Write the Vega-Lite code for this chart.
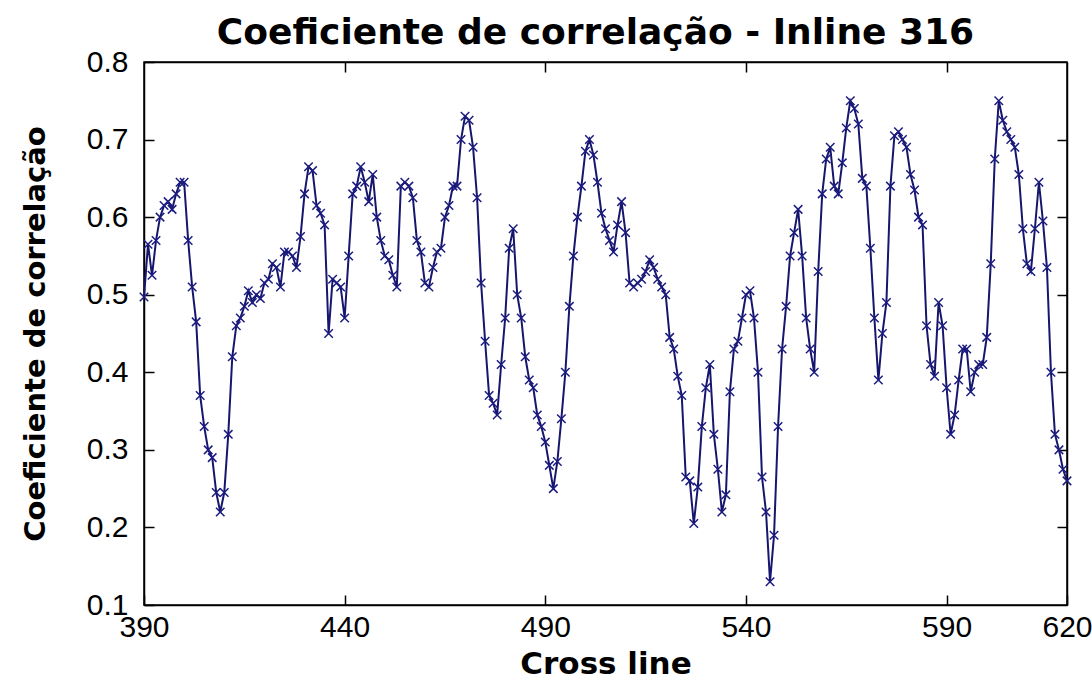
{
  "$schema": "https://vega.github.io/schema/vega-lite/v6.json",
  "width": 923,
  "height": 543,
  "autosize": {"type": "none"},
  "padding": {"left": 144, "top": 62, "right": 25, "bottom": 80},
  "background": "white",
  "title": {
    "text": "Coeficiente de correlação - Inline 316",
    "font": "DejaVu Sans",
    "fontSize": 36,
    "fontWeight": "bold",
    "color": "black",
    "offset": -5,
    "dx": -10
  },
  "data": {
    "values": [
      {"crossline": 390, "coef": 0.497}, {"crossline": 391, "coef": 0.565}, {"crossline": 392, "coef": 0.525},
      {"crossline": 393, "coef": 0.57}, {"crossline": 394, "coef": 0.6}, {"crossline": 395, "coef": 0.615},
      {"crossline": 396, "coef": 0.62}, {"crossline": 397, "coef": 0.61}, {"crossline": 398, "coef": 0.63},
      {"crossline": 399, "coef": 0.645}, {"crossline": 400, "coef": 0.645}, {"crossline": 401, "coef": 0.57},
      {"crossline": 402, "coef": 0.51}, {"crossline": 403, "coef": 0.465}, {"crossline": 404, "coef": 0.37},
      {"crossline": 405, "coef": 0.33}, {"crossline": 406, "coef": 0.3}, {"crossline": 407, "coef": 0.29},
      {"crossline": 408, "coef": 0.245}, {"crossline": 409, "coef": 0.22}, {"crossline": 410, "coef": 0.245},
      {"crossline": 411, "coef": 0.32}, {"crossline": 412, "coef": 0.42}, {"crossline": 413, "coef": 0.46},
      {"crossline": 414, "coef": 0.47}, {"crossline": 415, "coef": 0.485}, {"crossline": 416, "coef": 0.505},
      {"crossline": 417, "coef": 0.49}, {"crossline": 418, "coef": 0.5}, {"crossline": 419, "coef": 0.495},
      {"crossline": 420, "coef": 0.515}, {"crossline": 421, "coef": 0.52}, {"crossline": 422, "coef": 0.54},
      {"crossline": 423, "coef": 0.535}, {"crossline": 424, "coef": 0.51}, {"crossline": 425, "coef": 0.555},
      {"crossline": 426, "coef": 0.555}, {"crossline": 427, "coef": 0.55}, {"crossline": 428, "coef": 0.535},
      {"crossline": 429, "coef": 0.575}, {"crossline": 430, "coef": 0.63}, {"crossline": 431, "coef": 0.665},
      {"crossline": 432, "coef": 0.66}, {"crossline": 433, "coef": 0.615}, {"crossline": 434, "coef": 0.605},
      {"crossline": 435, "coef": 0.59}, {"crossline": 436, "coef": 0.45}, {"crossline": 437, "coef": 0.52},
      {"crossline": 438, "coef": 0.515}, {"crossline": 439, "coef": 0.51}, {"crossline": 440, "coef": 0.47},
      {"crossline": 441, "coef": 0.55}, {"crossline": 442, "coef": 0.63}, {"crossline": 443, "coef": 0.64},
      {"crossline": 444, "coef": 0.665}, {"crossline": 445, "coef": 0.645}, {"crossline": 446, "coef": 0.62},
      {"crossline": 447, "coef": 0.655}, {"crossline": 448, "coef": 0.6}, {"crossline": 449, "coef": 0.57},
      {"crossline": 450, "coef": 0.55}, {"crossline": 451, "coef": 0.545}, {"crossline": 452, "coef": 0.525},
      {"crossline": 453, "coef": 0.51}, {"crossline": 454, "coef": 0.64}, {"crossline": 455, "coef": 0.645},
      {"crossline": 456, "coef": 0.64}, {"crossline": 457, "coef": 0.625}, {"crossline": 458, "coef": 0.57},
      {"crossline": 459, "coef": 0.555}, {"crossline": 460, "coef": 0.515}, {"crossline": 461, "coef": 0.51},
      {"crossline": 462, "coef": 0.535}, {"crossline": 463, "coef": 0.555}, {"crossline": 464, "coef": 0.56},
      {"crossline": 465, "coef": 0.6}, {"crossline": 466, "coef": 0.615}, {"crossline": 467, "coef": 0.64},
      {"crossline": 468, "coef": 0.64}, {"crossline": 469, "coef": 0.7}, {"crossline": 470, "coef": 0.73},
      {"crossline": 471, "coef": 0.725}, {"crossline": 472, "coef": 0.69}, {"crossline": 473, "coef": 0.625},
      {"crossline": 474, "coef": 0.515}, {"crossline": 475, "coef": 0.44}, {"crossline": 476, "coef": 0.37},
      {"crossline": 477, "coef": 0.36}, {"crossline": 478, "coef": 0.345}, {"crossline": 479, "coef": 0.41},
      {"crossline": 480, "coef": 0.47}, {"crossline": 481, "coef": 0.56}, {"crossline": 482, "coef": 0.585},
      {"crossline": 483, "coef": 0.5}, {"crossline": 484, "coef": 0.47}, {"crossline": 485, "coef": 0.42},
      {"crossline": 486, "coef": 0.39}, {"crossline": 487, "coef": 0.38}, {"crossline": 488, "coef": 0.345},
      {"crossline": 489, "coef": 0.33}, {"crossline": 490, "coef": 0.31}, {"crossline": 491, "coef": 0.28},
      {"crossline": 492, "coef": 0.25}, {"crossline": 493, "coef": 0.285}, {"crossline": 494, "coef": 0.34},
      {"crossline": 495, "coef": 0.4}, {"crossline": 496, "coef": 0.485}, {"crossline": 497, "coef": 0.55},
      {"crossline": 498, "coef": 0.6}, {"crossline": 499, "coef": 0.64}, {"crossline": 500, "coef": 0.685},
      {"crossline": 501, "coef": 0.7}, {"crossline": 502, "coef": 0.68}, {"crossline": 503, "coef": 0.645},
      {"crossline": 504, "coef": 0.605}, {"crossline": 505, "coef": 0.585}, {"crossline": 506, "coef": 0.57},
      {"crossline": 507, "coef": 0.555}, {"crossline": 508, "coef": 0.59}, {"crossline": 509, "coef": 0.62},
      {"crossline": 510, "coef": 0.58}, {"crossline": 511, "coef": 0.515}, {"crossline": 512, "coef": 0.51},
      {"crossline": 513, "coef": 0.515}, {"crossline": 514, "coef": 0.52}, {"crossline": 515, "coef": 0.53},
      {"crossline": 516, "coef": 0.545}, {"crossline": 517, "coef": 0.535}, {"crossline": 518, "coef": 0.52},
      {"crossline": 519, "coef": 0.51}, {"crossline": 520, "coef": 0.5}, {"crossline": 521, "coef": 0.445},
      {"crossline": 522, "coef": 0.43}, {"crossline": 523, "coef": 0.395}, {"crossline": 524, "coef": 0.37},
      {"crossline": 525, "coef": 0.265}, {"crossline": 526, "coef": 0.26}, {"crossline": 527, "coef": 0.205},
      {"crossline": 528, "coef": 0.252}, {"crossline": 529, "coef": 0.33}, {"crossline": 530, "coef": 0.38},
      {"crossline": 531, "coef": 0.41}, {"crossline": 532, "coef": 0.32}, {"crossline": 533, "coef": 0.275},
      {"crossline": 534, "coef": 0.22}, {"crossline": 535, "coef": 0.242}, {"crossline": 536, "coef": 0.375},
      {"crossline": 537, "coef": 0.43}, {"crossline": 538, "coef": 0.44}, {"crossline": 539, "coef": 0.47},
      {"crossline": 540, "coef": 0.5}, {"crossline": 541, "coef": 0.505}, {"crossline": 542, "coef": 0.47},
      {"crossline": 543, "coef": 0.4}, {"crossline": 544, "coef": 0.265}, {"crossline": 545, "coef": 0.22},
      {"crossline": 546, "coef": 0.13}, {"crossline": 547, "coef": 0.19}, {"crossline": 548, "coef": 0.33},
      {"crossline": 549, "coef": 0.43}, {"crossline": 550, "coef": 0.485}, {"crossline": 551, "coef": 0.55},
      {"crossline": 552, "coef": 0.58}, {"crossline": 553, "coef": 0.61}, {"crossline": 554, "coef": 0.55},
      {"crossline": 555, "coef": 0.47}, {"crossline": 556, "coef": 0.43}, {"crossline": 557, "coef": 0.4},
      {"crossline": 558, "coef": 0.53}, {"crossline": 559, "coef": 0.63}, {"crossline": 560, "coef": 0.675},
      {"crossline": 561, "coef": 0.69}, {"crossline": 562, "coef": 0.64}, {"crossline": 563, "coef": 0.63},
      {"crossline": 564, "coef": 0.67}, {"crossline": 565, "coef": 0.715}, {"crossline": 566, "coef": 0.75},
      {"crossline": 567, "coef": 0.74}, {"crossline": 568, "coef": 0.72}, {"crossline": 569, "coef": 0.65},
      {"crossline": 570, "coef": 0.64}, {"crossline": 571, "coef": 0.56}, {"crossline": 572, "coef": 0.47},
      {"crossline": 573, "coef": 0.39}, {"crossline": 574, "coef": 0.45}, {"crossline": 575, "coef": 0.49},
      {"crossline": 576, "coef": 0.64}, {"crossline": 577, "coef": 0.705}, {"crossline": 578, "coef": 0.71},
      {"crossline": 579, "coef": 0.7}, {"crossline": 580, "coef": 0.69}, {"crossline": 581, "coef": 0.655},
      {"crossline": 582, "coef": 0.635}, {"crossline": 583, "coef": 0.6}, {"crossline": 584, "coef": 0.59},
      {"crossline": 585, "coef": 0.46}, {"crossline": 586, "coef": 0.41}, {"crossline": 587, "coef": 0.395},
      {"crossline": 588, "coef": 0.49}, {"crossline": 589, "coef": 0.46}, {"crossline": 590, "coef": 0.38},
      {"crossline": 591, "coef": 0.32}, {"crossline": 592, "coef": 0.345}, {"crossline": 593, "coef": 0.39},
      {"crossline": 594, "coef": 0.43}, {"crossline": 595, "coef": 0.43}, {"crossline": 596, "coef": 0.375},
      {"crossline": 597, "coef": 0.4}, {"crossline": 598, "coef": 0.41}, {"crossline": 599, "coef": 0.41},
      {"crossline": 600, "coef": 0.445}, {"crossline": 601, "coef": 0.54}, {"crossline": 602, "coef": 0.675},
      {"crossline": 603, "coef": 0.75}, {"crossline": 604, "coef": 0.725}, {"crossline": 605, "coef": 0.71},
      {"crossline": 606, "coef": 0.7}, {"crossline": 607, "coef": 0.69}, {"crossline": 608, "coef": 0.655},
      {"crossline": 609, "coef": 0.585}, {"crossline": 610, "coef": 0.54}, {"crossline": 611, "coef": 0.53},
      {"crossline": 612, "coef": 0.585}, {"crossline": 613, "coef": 0.645}, {"crossline": 614, "coef": 0.595},
      {"crossline": 615, "coef": 0.535}, {"crossline": 616, "coef": 0.4}, {"crossline": 617, "coef": 0.32},
      {"crossline": 618, "coef": 0.3}, {"crossline": 619, "coef": 0.275}, {"crossline": 620, "coef": 0.26}
    ]
  },
  "layer": [
    {
      "mark": {"type": "line", "color": "#16166e", "strokeWidth": 2},
      "encoding": {
        "x": {
          "field": "crossline",
          "type": "quantitative",
          "scale": {"domain": [390, 620], "nice": false, "zero": false},
          "axis": {
            "orient": "bottom",
            "values": [390, 440, 490, 540, 590, 620],
            "format": "d",
            "title": "Cross line",
            "titleFont": "DejaVu Sans",
            "titleFontSize": 31,
            "titleFontWeight": "bold",
            "titleColor": "black",
            "titlePadding": 7,
            "labelFont": "Liberation Sans",
            "labelFontSize": 30,
            "labelColor": "black",
            "labelPadding": 17,
            "labelFlush": false,
            "labelOverlap": false,
            "tickSize": -10,
            "tickColor": "black",
            "tickWidth": 1.5,
            "domainColor": "black",
            "domainWidth": 1.5,
            "grid": false
          }
        },
        "y": {
          "field": "coef",
          "type": "quantitative",
          "scale": {"domain": [0.1, 0.8], "nice": false, "zero": false},
          "axis": {
            "orient": "left",
            "values": [0.1, 0.2, 0.3, 0.4, 0.5, 0.6, 0.7, 0.8],
            "format": ".1f",
            "title": "Coeficiente de correlação",
            "titleFont": "DejaVu Sans",
            "titleFontSize": 29,
            "titleFontWeight": "bold",
            "titleColor": "black",
            "titlePadding": 36,
            "labelFont": "Liberation Sans",
            "labelFontSize": 30,
            "labelColor": "black",
            "labelPadding": 26,
            "labelOverlap": false,
            "tickSize": -10,
            "tickColor": "black",
            "tickWidth": 1.5,
            "domainColor": "black",
            "domainWidth": 1.5,
            "grid": false
          }
        }
      }
    },
    {
      "mark": {
        "type": "point",
        "shape": "M-1,-1L1,1M-1,1L1,-1",
        "filled": false,
        "size": 72,
        "strokeWidth": 1.5,
        "color": "#1c1c80",
        "opacity": 1
      },
      "encoding": {
        "x": {
          "field": "crossline",
          "type": "quantitative",
          "scale": {"domain": [390, 620], "nice": false, "zero": false},
          "axis": {
            "orient": "top",
            "values": [440, 490, 540, 590],
            "labels": false,
            "title": null,
            "tickSize": -10,
            "tickColor": "black",
            "tickWidth": 1.5,
            "domainColor": "black",
            "domainWidth": 1.5,
            "grid": false
          }
        },
        "y": {
          "field": "coef",
          "type": "quantitative",
          "scale": {"domain": [0.1, 0.8], "nice": false, "zero": false},
          "axis": {
            "orient": "right",
            "values": [0.2, 0.3, 0.4, 0.5, 0.6, 0.7],
            "labels": false,
            "title": null,
            "tickSize": -10,
            "tickColor": "black",
            "tickWidth": 1.5,
            "domainColor": "black",
            "domainWidth": 1.5,
            "grid": false
          }
        }
      }
    }
  ],
  "resolve": {"axis": {"x": "independent", "y": "independent"}},
  "config": {
    "view": {"stroke": "black", "strokeWidth": 1.5}
  }
}
